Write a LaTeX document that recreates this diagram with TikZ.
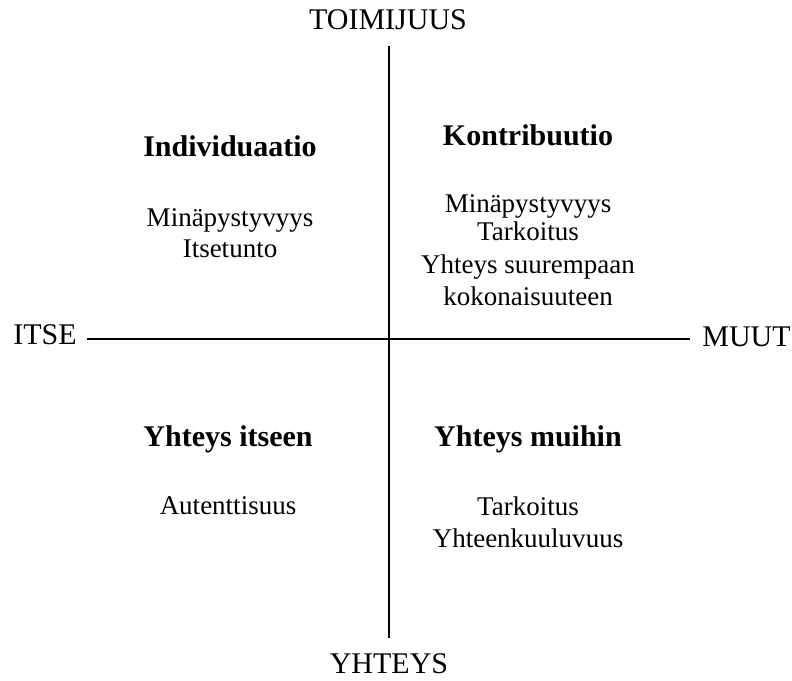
\documentclass[tikz,border=0pt]{standalone}
\usepackage{fontspec}
\setmainfont{Liberation Serif}
\usetikzlibrary{positioning}

\tikzset{
  axislabel/.style={font=\fontsize{15}{18}\selectfont, inner sep=0pt},
  quadhead/.style={font=\fontsize{15}{18}\selectfont\bfseries, inner sep=0pt, anchor=base},
  quaditem/.style={font=\fontsize{13.5}{16}\selectfont, inner sep=0pt, anchor=base},
}

\begin{document}
\begin{tikzpicture}[x=0.5pt, y=-0.5pt]
  \useasboundingbox (0,0) rectangle (792,680);
  % axis ends
  \coordinate (top) at (389,46);
  \coordinate (bottom) at (389,638);
  \coordinate (left) at (87,339);
  \coordinate (right) at (690,339);
  \draw[line width=1.3pt] (top) -- (bottom);
  \draw[line width=1.3pt] (left) -- (right);
  % axis labels
  \node[axislabel, anchor=base] (toimijuus) at (388,29) {TOIMIJUUS};
  \node[axislabel, anchor=base] (yhteys) at (389,673) {YHTEYS};
  \node[axislabel, anchor=base west] (itse) at (13,344) {ITSE};
  \node[axislabel, anchor=base west] (muut) at (702,346) {MUUT};
  % upper left
  \node[quadhead] (indiv) at (230,156) {Individuaatio};
  \node[quaditem] (ul1) at (230,226) {Minäpystyvyys};
  \node[quaditem] (ul2) at (230,257) {Itsetunto};
  % upper right
  \node[quadhead] (kontr) at (528,145) {Kontribuutio};
  \node[quaditem] (ur1) at (528,212) {Minäpystyvyys};
  \node[quaditem] (ur2) at (528,240) {Tarkoitus};
  \node[quaditem] (ur3) at (528,273) {Yhteys suurempaan};
  \node[quaditem] (ur4) at (528,305) {kokonaisuuteen};
  % lower left
  \node[quadhead] (itseen) at (228,446) {Yhteys itseen};
  \node[quaditem] (ll1) at (228,514) {Autenttisuus};
  % lower right
  \node[quadhead] (muihin) at (528,446) {Yhteys muihin};
  \node[quaditem] (lr1) at (528,515) {Tarkoitus};
  \node[quaditem] (lr2) at (528,547) {Yhteenkuuluvuus};
\end{tikzpicture}
\end{document}
